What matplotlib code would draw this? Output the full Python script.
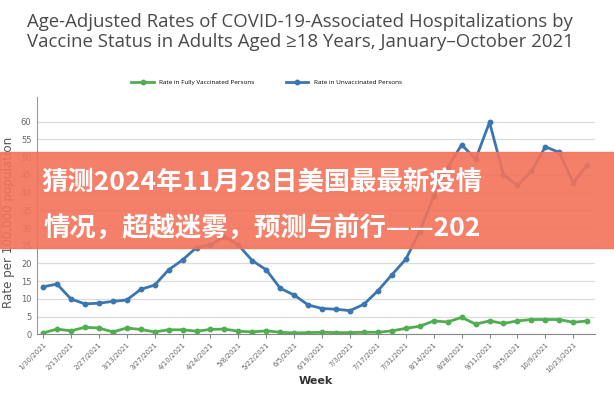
import matplotlib.pyplot as plt
import matplotlib.patches as patches

# data (rate per 100,000, weekly)
weeks = ["1/30/2021", "2/6/2021", "2/13/2021", "2/20/2021", "2/27/2021", "3/6/2021",
         "3/13/2021", "3/20/2021", "3/27/2021", "4/3/2021", "4/10/2021", "4/17/2021",
         "4/24/2021", "5/1/2021", "5/8/2021", "5/15/2021", "5/22/2021", "5/29/2021",
         "6/5/2021", "6/12/2021", "6/19/2021", "6/26/2021", "7/3/2021", "7/10/2021",
         "7/17/2021", "7/24/2021", "7/31/2021", "8/7/2021", "8/14/2021", "8/21/2021",
         "8/28/2021", "9/4/2021", "9/11/2021", "9/18/2021", "9/25/2021", "10/2/2021",
         "10/9/2021", "10/16/2021", "10/23/2021", "10/30/2021"]
vaccinated = [0.4, 1.5, 1.0, 2.0, 1.8, 0.7, 1.8, 1.4, 0.7, 1.3,
              1.3, 0.9, 1.4, 1.5, 0.9, 0.7, 1.0, 0.6, 0.4, 0.5,
              0.6, 0.5, 0.5, 0.6, 0.6, 1.0, 1.7, 2.3, 3.8, 3.5,
              4.8, 2.9, 3.8, 3.1, 3.8, 4.2, 4.2, 4.2, 3.4, 3.8]
unvaccinated = [13.4, 14.2, 10.0, 8.6, 8.8, 9.3, 9.7, 12.7, 13.9, 18.2,
                21.0, 24.5, 25.2, 27.6, 25.2, 20.8, 18.2, 13.0, 11.1, 8.3,
                7.3, 7.1, 6.7, 8.5, 12.3, 16.8, 21.2, 29.0, 39.0, 47.0,
                53.5, 49.4, 59.8, 45.0, 42.0, 46.0, 52.9, 51.3, 42.8, 47.8]
tick_idx = list(range(0, 39, 2))

title = ("Age-Adjusted Rates of COVID-19-Associated Hospitalizations by\n"
         "Vaccine Status in Adults Aged \u226518 Years, January\u2013October 2021")
banner_lines = ["猜测2024年11月28日美国最最新疫情", "情况，超越迷雾，预测与前行——202"]

green = "#4fae4f"
blue = "#3a77b0"

fig = plt.figure(figsize=(6.14, 4.0), dpi=100)
ax = fig.add_axes([0.0603, 0.164, 0.909, 0.594])

x = list(range(len(weeks)))
ax.plot(x, vaccinated, color=green, lw=2, marker="o", ms=3.2, label="Rate in Fully Vaccinated Persons")
ax.plot(x, unvaccinated, color=blue, lw=2, marker="o", ms=3.2, label="Rate in Unvaccinated Persons")

ax.set_xlim(-0.43, 39.57)
ax.set_ylim(0, 67)
ax.set_yticks(range(0, 61, 5))
ax.grid(axis="y", color="#dcdcdc", lw=0.9)
ax.set_axisbelow(True)
ax.set_xticks(tick_idx)
ax.set_xticklabels([weeks[i] for i in tick_idx], rotation=45, ha="right",
                   rotation_mode="anchor", fontsize=5, color="#666666")
ax.tick_params(axis="y", labelsize=6, labelcolor="#666666", length=0, pad=4)
ax.tick_params(axis="x", length=3, color="#888888", pad=2)
for s in ["top", "right"]:
    ax.spines[s].set_visible(False)
ax.spines["left"].set_color("#999999")
ax.spines["bottom"].set_color("#888888")
ax.set_ylabel("Rate per 100,000 population", fontsize=8.6, color="#555555")
ax.yaxis.set_label_coords(-0.039, 0.47)
ax.set_xlabel("Week", fontsize=8, fontweight="bold", color="#333333", labelpad=1)

fig.legend(loc="center", bbox_to_anchor=(266.5 / 614, 1 - 82.7 / 400), ncol=2,
           frameon=False, handlelength=3.5, columnspacing=5,
           prop={"family": "Open Sans", "size": 4.6})

fig.text(27 / 614, 1 - 32 / 400, title, fontsize=13.4, color="#4a4a4a",
         family="Open Sans", va="center", ha="left", linespacing=1.1)

# orange banner across the chart
fig.patches.append(patches.Rectangle((0, 1 - 248 / 400), 1, 96 / 400,
                                     transform=fig.transFigure, color="#f3725a",
                                     alpha=0.9, zorder=5))
fig.text(262 / 614, 1 - 183 / 400, banner_lines[0], fontsize=19, color="white",
         fontweight="heavy", ha="center", va="center", zorder=6,
         family=["Noto Sans CJK SC", "DejaVu Sans"])
fig.text(262 / 614, 1 - 229 / 400, banner_lines[1], fontsize=19, color="white",
         fontweight="heavy", ha="center", va="center", zorder=6,
         family=["Noto Sans CJK SC", "DejaVu Sans"])

fig.savefig("out.png", dpi=100)
